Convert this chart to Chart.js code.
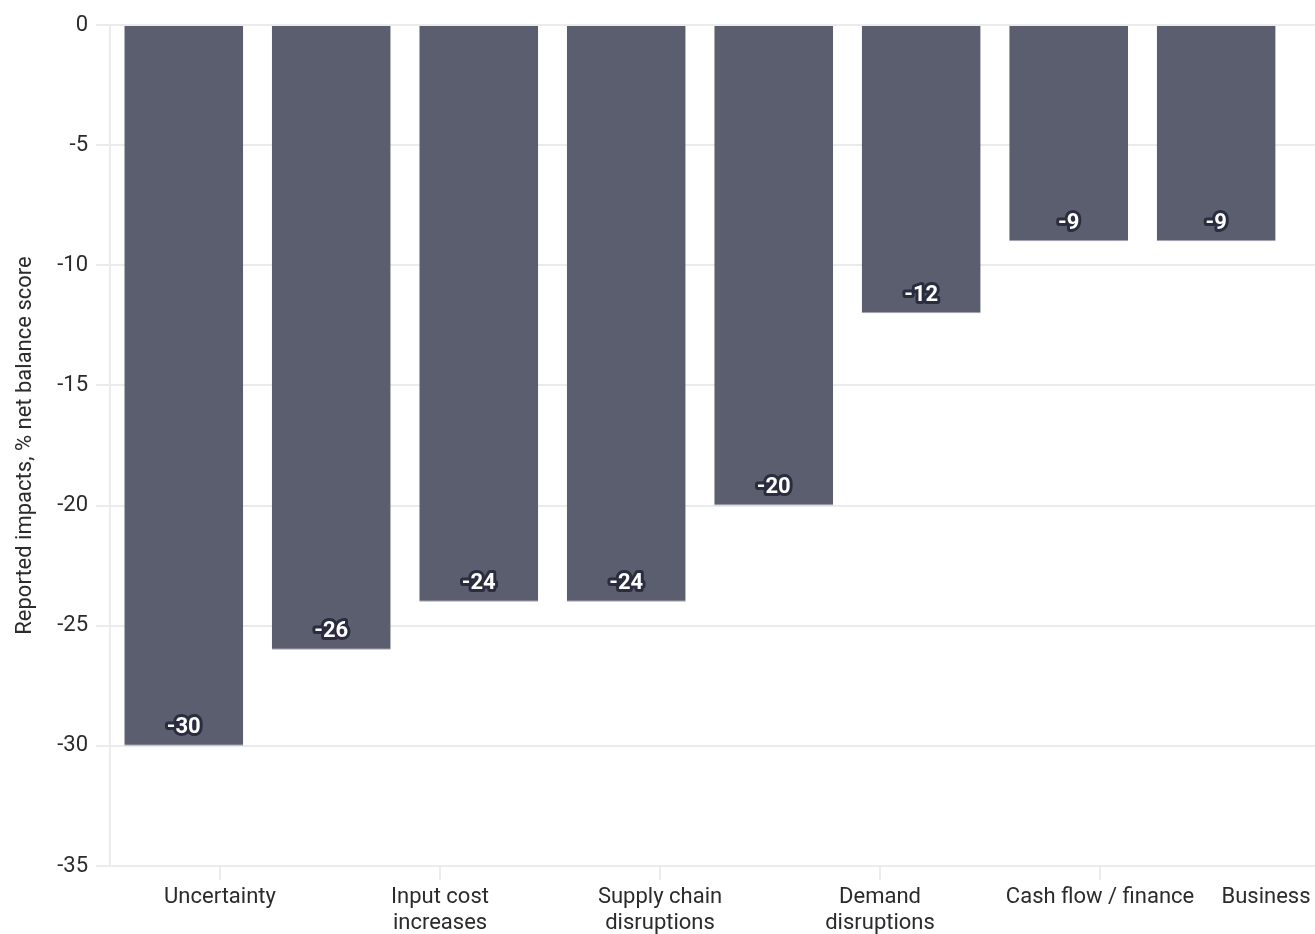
<!DOCTYPE html>
<html>
<head>
<meta charset="utf-8">
<script src="https://cdn.jsdelivr.net/npm/chart.js@4.4.1/dist/chart.umd.min.js"></script>
<style>
  html, body { margin: 0; padding: 0; background: #fff; overflow: hidden; }
  #wrap { width: 1315px; height: 934px; position: relative; }
</style>
</head>
<body>
<div id="wrap"><canvas id="chart"></canvas></div>
<script>
// bar values, left to right
const values = [-30, -26, -24, -24, -20, -12, -9, -9];

// category labels shown under the axis (last one runs off the edge)
const tickLabels = [
  'Uncertainty',
  ['Input cost', 'increases'],
  ['Supply chain', 'disruptions'],
  ['Demand', 'disruptions'],
  'Cash flow / finance',
  'Business conditions',
];

const yTicks = [0, -5, -10, -15, -20, -25, -30, -35];

const BAR_COLOR = '#5b5e6f';
const GRID = '#ebebeb';
const TEXT = '#2b2b2b';
const FONT = 'Roboto, "Noto Sans", sans-serif';

// white numbers with a dark outline just inside the bar end
const valueLabels = {
  id: 'valueLabels',
  afterDatasetsDraw(chart) {
    const ctx = chart.ctx;
    const meta = chart.getDatasetMeta(0);
    ctx.save();
    ctx.font = 'bold 22px ' + FONT;
    ctx.textAlign = 'center';
    ctx.textBaseline = 'middle';
    ctx.lineJoin = 'round';
    ctx.lineWidth = 6;
    ctx.strokeStyle = '#2a2c3f';
    ctx.fillStyle = '#ffffff';
    meta.data.forEach((bar, i) => {
      const v = values[i];
      const y = bar.y + (v < 0 ? -18 : 18);
      ctx.strokeText(String(v), bar.x, y);
      ctx.fillText(String(v), bar.x, y);
    });
    ctx.restore();
  }
};

new Chart(document.getElementById('chart'), {
  type: 'bar',
  data: {
    datasets: [{
      data: values.map((v, i) => ({ x: i + 0.5, y: v })),
      backgroundColor: BAR_COLOR,
      borderColor: '#a3a6b8',
      borderWidth: { top: 0, left: 0, right: 0, bottom: 1 },
      borderSkipped: false,
      categoryPercentage: 0.806,
      barPercentage: 1,
    }],
  },
  options: {
    responsive: true,
    maintainAspectRatio: false,
    animation: false,
    layout: { padding: { top: 25, right: 0, bottom: 0, left: 0 } },
    plugins: {
      legend: { display: false },
      tooltip: { enabled: false },
    },
    scales: {
      x: {
        type: 'linear',
        display: false,
        offset: false,
        min: 0,
        max: 8.17,
        grid: { offset: false },
        ticks: { stepSize: 1 },
      },
      x2: {
        type: 'linear',
        position: 'bottom',
        offset: false,
        min: 0,
        max: 5.477,
        afterBuildTicks: (axis) => {
          axis.ticks = tickLabels.map((_, i) => ({ value: i + 0.5 }));
        },
        afterFit: (axis) => {
          axis.height = 68;
          axis.paddingLeft = 0;
          axis.paddingRight = 0;
        },
        grid: {
          offset: false,
          drawOnChartArea: false,
          drawTicks: true,
          tickLength: 14,
          color: GRID,
          lineWidth: 2,
        },
        border: { display: true, color: GRID, width: 2 },
        ticks: {
          autoSkip: false,
          maxRotation: 0,
          minRotation: 0,
          padding: 4,
          color: TEXT,
          font: { family: FONT, size: 22 },
          callback: (val, i) => tickLabels[i],
        },
      },
      y: {
        min: -35,
        max: 0,
        afterBuildTicks: (axis) => {
          axis.ticks = yTicks.map(v => ({ value: v }));
        },
        afterFit: (axis) => {
          axis.width = 110;
          axis.paddingTop = 0;
          axis.paddingBottom = 0;
        },
        grid: {
          color: GRID,
          lineWidth: 2,
          tickLength: 14,
        },
        border: { display: true, color: GRID, width: 2 },
        ticks: {
          padding: 8,
          color: TEXT,
          font: { family: FONT, size: 22 },
        },
        title: {
          display: true,
          text: 'Reported impacts, % net balance score',
          color: TEXT,
          font: { family: FONT, size: 22 },
          padding: { top: 12, bottom: 0 },
        },
      },
    },
  },
  plugins: [valueLabels],
});
</script>
</body>
</html>
